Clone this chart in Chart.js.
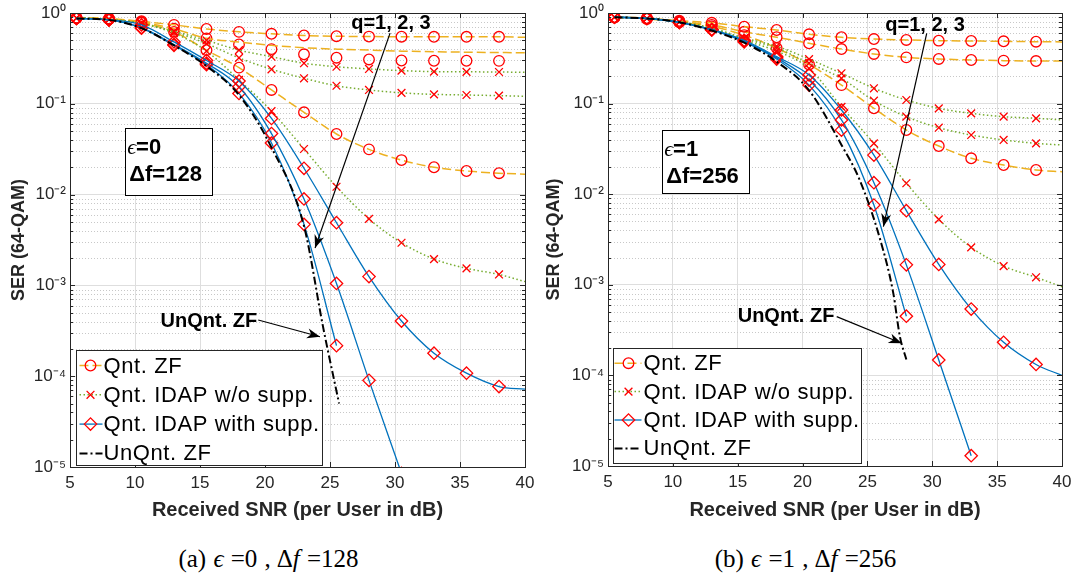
<!DOCTYPE html>
<html>
<head>
<meta charset="utf-8">
<script src="https://cdn.jsdelivr.net/npm/chart.js@4/dist/chart.umd.min.js"></script>
<style>
  body { margin: 0; background: #fff; width: 1074px; height: 583px; overflow: hidden; position: relative; }
  canvas { position: absolute; top: 0; }
  #ca { left: 0; }
  #cb { left: 537px; }
  .cap { position: absolute; top: 545px; width: 537px; text-align: center; font: 25px "Liberation Serif", "Times New Roman", serif; color: #000; word-spacing: 1px; }
</style>
</head>
<body>
<canvas id="ca" width="537" height="530"></canvas>
<canvas id="cb" width="537" height="530"></canvas>
<div class="cap" style="left:0">(a) <i>ϵ</i> =0 , Δ<i>f</i> =128</div>
<div class="cap" style="left:537px">(b) <i>ϵ</i> =1 , Δ<i>f</i> =256</div>
<script>
// x positions of the markers; the last entry (40) is only where the curves end
const snr = [5.5, 8, 10.5, 13, 15.5, 18, 20.5, 23, 25.5, 28, 30.5, 33, 35.5, 38, 40];
const xTicks = [5, 10, 15, 20, 25, 30, 35, 40];
const yTicks = [1e-5, 1e-4, 1e-3, 1e-2, 1e-1, 1];
const yTickLabels = ['10⁻⁵', '10⁻⁴', '10⁻³', '10⁻²', '10⁻¹', '10⁰'];
const legendLabels = ['Qnt. ZF', 'Qnt. IDAP w/o supp.', 'Qnt. IDAP with supp.', 'UnQnt. ZF'];

// (a) eps=0, df=128 — q = 1, 2, 3
const aZF1 = [0.89, 0.87, 0.81, 0.74, 0.667, 0.62, 0.59, 0.565, 0.555, 0.55, 0.548, 0.547, 0.547, 0.547, 0.54];
const aZF2 = [0.88, 0.86, 0.79, 0.67, 0.526, 0.45, 0.40, 0.351, 0.322, 0.308, 0.30, 0.298, 0.298, 0.297];
const aZF2line = [0.88, 0.86, 0.79, 0.67, 0.526, 0.48, 0.44, 0.415, 0.40, 0.39, 0.38, 0.375, 0.37, 0.367, 0.365];
const aZF3 = [0.88, 0.86, 0.78, 0.62, 0.39, 0.25, 0.142, 0.0806, 0.0465, 0.0315, 0.024, 0.020, 0.0182, 0.0172, 0.0168];
const aW1 = [0.88, 0.85, 0.77, 0.63, 0.50, 0.39, 0.33, 0.28, 0.256, 0.242, 0.232, 0.226, 0.225, 0.224, 0.222];
const aW2 = [0.88, 0.85, 0.77, 0.62, 0.46, 0.32, 0.24, 0.191, 0.158, 0.142, 0.132, 0.127, 0.125, 0.123, 0.121];
const aW3 = [0.88, 0.85, 0.76, 0.60, 0.38, 0.183, 0.083, 0.0318, 0.0122, 0.0054, 0.00295, 0.00195, 0.00154, 0.00132, 0.0011];
const aS1 = [0.87, 0.84, 0.74, 0.48, 0.30, 0.178, 0.069, 0.0195, 0.0049, 0.00125, 4.05e-4, 1.79e-4, 1.08e-4, 7.7e-5, 7.2e-5];
const aS2 = [0.87, 0.84, 0.69, 0.45, 0.28, 0.154, 0.047, 0.00895, 0.00105, 9.0e-5, 8.5e-6];
const aS3 = [0.87, 0.84, 0.68, 0.44, 0.27, 0.13, 0.037, 0.0047, 2.17e-4];
const aUnX = [5.5, 8, 10.5, 13, 15.5, 18, 20.5, 23, 24.5, 25.7];
const aUnY = [0.87, 0.84, 0.68, 0.44, 0.26, 0.125, 0.033, 0.0045, 3.3e-4, 5e-5];

// (b) eps=1, df=256
const bZF1 = [0.90, 0.88, 0.82, 0.78, 0.706, 0.649, 0.582, 0.54, 0.516, 0.504, 0.495, 0.491, 0.487, 0.482, 0.48];
const bZF2 = [0.90, 0.87, 0.80, 0.74, 0.62, 0.54, 0.463, 0.40, 0.353, 0.324, 0.311, 0.303, 0.298, 0.295, 0.295];
const bZF3 = [0.89, 0.86, 0.79, 0.71, 0.57, 0.41, 0.27, 0.16, 0.0887, 0.0511, 0.034, 0.0249, 0.021, 0.0185, 0.0177];
const bW1 = [0.90, 0.87, 0.80, 0.68, 0.53, 0.43, 0.31, 0.216, 0.1476, 0.1096, 0.0887, 0.078, 0.0717, 0.0688, 0.066];
const bW2 = [0.90, 0.87, 0.80, 0.68, 0.52, 0.41, 0.28, 0.19, 0.1076, 0.0717, 0.0542, 0.045, 0.0397, 0.0364, 0.0349];
const bW3 = [0.90, 0.87, 0.80, 0.67, 0.50, 0.38, 0.245, 0.092, 0.0364, 0.0132, 0.00528, 0.00259, 0.00161, 0.00121, 9.5e-4];
const bS1 = [0.90, 0.87, 0.79, 0.66, 0.50, 0.33, 0.207, 0.085, 0.027, 0.00658, 0.00168, 5.4e-4, 2.32e-4, 1.32e-4, 1.0e-4];
const bS2 = [0.90, 0.87, 0.79, 0.65, 0.49, 0.32, 0.182, 0.066, 0.0134, 0.00166, 1.48e-4, 1.3e-5];
const bS3 = [0.90, 0.87, 0.79, 0.65, 0.48, 0.31, 0.16, 0.051, 0.0076, 4.5e-4];
const bUnX = [5.5, 8, 10.5, 13, 15.5, 18, 20.5, 23, 24.4, 26, 27, 27.5, 28];
const bUnY = [0.90, 0.87, 0.79, 0.64, 0.47, 0.29, 0.14, 0.035, 0.0144, 0.0031, 8e-4, 2.7e-4, 1.5e-4];

const FONT = '"Liberation Sans", Arial, Helvetica, sans-serif';
const AXIS = '#262626', GRID = '#dedede', RED = '#ff0000';
const sZF = { color: '#EDB120', width: 1.5, dash: [9, 4], marker: 'circle', r: 5.3 };
const sW = { color: '#77AC30', width: 1.5, dash: [1.5, 2.5], marker: 'crossRot', r: 5.5 };
const sS = { color: '#0072BD', width: 1.3, dash: [], marker: 'rectRot', r: 6.2 };
const sUn = { color: '#000000', width: 2, dash: [8, 3, 2, 3], marker: null, r: 0 };
const legendStyles = [sZF, sW, sS, sUn];

const minorY = [];
for (let e = -5; e < 0; e++) for (let k = 2; k <= 9; k++) minorY.push(k * Math.pow(10, e));

function curve(ys, st, opts = {}) {
  const xs = opts.xs || snr;
  return {
    data: ys.map((y, i) => ({ x: xs[i], y })),
    borderColor: st.color,
    borderWidth: st.width,
    borderDash: st.dash,
    showLine: opts.line !== false,
    pointStyle: st.marker || false,
    pointRadius: c => (opts.noMarks || !c.raw || c.raw.x > 39 ? 0 : st.r),
    pointBorderColor: RED,
    pointBackgroundColor: 'rgba(0,0,0,0)',
    pointBorderWidth: 1.3,
    cubicInterpolationMode: 'monotone',
    fill: false,
    order: opts.order || 0
  };
}

function drawArrow(ctx, x1, y1, x2, y2) {
  ctx.beginPath(); ctx.moveTo(x1, y1); ctx.lineTo(x2, y2); ctx.stroke();
  const a = Math.atan2(y2 - y1, x2 - x1), L = 13, W = 5, c = Math.cos(a), s = Math.sin(a);
  ctx.beginPath();
  ctx.moveTo(x2, y2);
  ctx.lineTo(x2 - L * c + W * s, y2 - L * s - W * c);
  ctx.lineTo(x2 - 0.7 * L * c, y2 - 0.7 * L * s);
  ctx.lineTo(x2 - L * c - W * s, y2 - L * s + W * c);
  ctx.closePath(); ctx.fill();
}

function drawMarker(ctx, kind, x, y) {
  ctx.beginPath();
  if (kind === 'circle') ctx.arc(x, y, 5.3, 0, 2 * Math.PI);
  if (kind === 'crossRot') { const d = 3.9; ctx.moveTo(x - d, y - d); ctx.lineTo(x + d, y + d); ctx.moveTo(x + d, y - d); ctx.lineTo(x - d, y + d); }
  if (kind === 'rectRot') { const r = 6.2; ctx.moveTo(x - r, y); ctx.lineTo(x, y - r); ctx.lineTo(x + r, y); ctx.lineTo(x, y + r); ctx.closePath(); }
  ctx.stroke();
}

const decorate = {
  id: 'decorate',
  beforeDatasetsDraw(chart) {
    const { ctx, chartArea: a, scales: { y } } = chart;
    ctx.save();
    ctx.strokeStyle = '#c8c8c8'; ctx.lineWidth = 1; ctx.setLineDash([1, 2]);
    minorY.forEach(v => {
      const py = Math.round(y.getPixelForValue(v)) + 0.5;
      ctx.beginPath(); ctx.moveTo(a.left, py); ctx.lineTo(a.right, py); ctx.stroke();
    });
    ctx.restore();
  },
  afterDatasetsDraw(chart) {
    const { ctx, chartArea: a, scales: { x, y } } = chart;
    ctx.save();
    ctx.strokeStyle = AXIS; ctx.lineWidth = 1;
    ctx.beginPath();
    yTicks.forEach(v => {
      const py = Math.round(y.getPixelForValue(v)) + 0.5;
      ctx.moveTo(a.left, py); ctx.lineTo(a.left + 5, py);
      ctx.moveTo(a.right, py); ctx.lineTo(a.right - 5, py);
    });
    minorY.forEach(v => {
      const py = Math.round(y.getPixelForValue(v)) + 0.5;
      ctx.moveTo(a.left, py); ctx.lineTo(a.left + 3, py);
      ctx.moveTo(a.right, py); ctx.lineTo(a.right - 3, py);
    });
    xTicks.forEach(v => {
      const px = Math.round(x.getPixelForValue(v)) + 0.5;
      ctx.moveTo(px, a.bottom); ctx.lineTo(px, a.bottom - 5);
      ctx.moveTo(px, a.top); ctx.lineTo(px, a.top + 5);
    });
    ctx.stroke();
    ctx.strokeRect(Math.round(a.left) + 0.5, Math.round(a.top) + 0.5, Math.round(a.right - a.left), Math.round(a.bottom - a.top));
    ctx.restore();
  },
  afterDraw(chart, args, o) {
    const { ctx, chartArea: a, scales: { x, y } } = chart;
    const X = v => x.getPixelForValue(v), Y = v => y.getPixelForValue(v);
    ctx.save();
    // parameter box
    const b = o.box;
    const bx = Math.round(X(b.x1)) + 0.5, by = Math.round(Y(b.y1)) + 0.5;
    const bw = Math.round(X(b.x2) - X(b.x1)), bh = Math.round(Y(b.y2) - Y(b.y1));
    ctx.fillStyle = '#fff'; ctx.fillRect(bx, by, bw, bh);
    ctx.strokeStyle = '#000'; ctx.lineWidth = 1; ctx.strokeRect(bx, by, bw, bh);
    ctx.fillStyle = '#000'; ctx.textBaseline = 'middle'; ctx.textAlign = 'left';
    const tx = X(b.tx);
    ctx.font = 'italic 22px "Liberation Serif", serif';
    ctx.fillText('ϵ', tx, Y(b.ty1));
    const ew = ctx.measureText('ϵ').width;
    ctx.font = 'bold 22px ' + FONT;
    ctx.fillText('=' + b.eps, tx + ew, Y(b.ty1));
    ctx.fillText('Δf=' + b.df, tx + 2, Y(b.ty2));
    // q arrow + label
    ctx.font = 'bold 20px ' + FONT;
    ctx.textAlign = 'center';
    ctx.fillText('q=1, 2, 3', X(o.q.x), Y(o.q.y));
    ctx.strokeStyle = '#000'; ctx.lineWidth = 1.2;
    drawArrow(ctx, X(o.q.x1), Y(o.q.y1), X(o.q.x2), Y(o.q.y2));
    // UnQnt arrow + label
    ctx.textAlign = 'right';
    ctx.fillText('UnQnt. ZF', X(o.un.x), Y(o.un.y));
    drawArrow(ctx, X(o.un.x1), Y(o.un.y1), X(o.un.x2), Y(o.un.y2));
    // legend
    const L = o.legend;
    const lx = Math.round(a.left + L.dx) + 0.5, ly = Math.round(a.bottom - L.dy - L.h) + 0.5;
    ctx.fillStyle = '#fff'; ctx.fillRect(lx, ly, L.w, L.h);
    ctx.strokeStyle = AXIS; ctx.lineWidth = 1; ctx.strokeRect(lx, ly, L.w, L.h);
    ctx.font = '22px ' + FONT; ctx.textAlign = 'left'; ctx.textBaseline = 'middle';
    ctx.letterSpacing = '0.6px';
    legendLabels.forEach((t, i) => {
      const st = legendStyles[i], cy = ly + L.row0 + i * L.step;
      ctx.strokeStyle = st.color; ctx.lineWidth = st.width; ctx.setLineDash(st.dash);
      ctx.beginPath(); ctx.moveTo(lx + L.l0, cy); ctx.lineTo(lx + L.l1, cy); ctx.stroke();
      ctx.setLineDash([]);
      if (st.marker) { ctx.strokeStyle = RED; ctx.lineWidth = 1.3; drawMarker(ctx, st.marker, lx + L.mx, cy); }
      ctx.fillStyle = '#000'; ctx.fillText(t, lx + L.tx, cy + 1);
    });
    ctx.restore();
  }
};

function makeChart(id, datasets, deco, dims) {
  return new Chart(document.getElementById(id), {
    type: 'line',
    data: { datasets },
    options: {
      responsive: false,
      animation: false,
      events: [],
      layout: { padding: { top: 13, right: dims.right, left: 0, bottom: 0 } },
      plugins: { legend: { display: false }, tooltip: { enabled: false }, decorate: deco },
      scales: {
        x: {
          type: 'linear', min: 5, max: 40,
          afterBuildTicks: s => { s.ticks = xTicks.map(v => ({ value: v })); },
          ticks: { padding: 6, color: AXIS, maxRotation: 0, font: { family: FONT, size: 17 } },
          grid: { color: GRID, drawTicks: false },
          border: { display: false },
          title: { display: true, text: 'Received SNR (per User in dB)', color: AXIS,
                   font: { family: FONT, size: 20, weight: 'bold' }, padding: { top: 0, bottom: 8 } },
          afterFit: s => { s.height = dims.xh; s.paddingLeft = 0; s.paddingRight = 0; }
        },
        y: {
          type: 'logarithmic', min: 1e-5, max: 1,
          afterBuildTicks: s => { s.ticks = yTicks.concat(minorY).sort((p, q) => p - q).map(v => ({ value: v })); },
          ticks: { autoSkip: false, padding: 4, color: AXIS, font: { family: FONT, size: 17 },
                   callback: v => { const i = yTicks.indexOf(v); return i >= 0 ? yTickLabels[i] : ''; } },
          grid: { color: c => (c.tick && yTicks.includes(c.tick.value) ? GRID : 'rgba(0,0,0,0)'), drawTicks: false },
          border: { display: false },
          title: { display: true, text: 'SER (64-QAM)', color: AXIS,
                   font: { family: FONT, size: 18, weight: 'bold' }, padding: { top: dims.ytp, bottom: 0 } },
          afterFit: s => { s.width = dims.yw; s.paddingTop = 0; s.paddingBottom = 0; }
        }
      }
    },
    plugins: [decorate]
  });
}

const dsA = [
  curve(aZF1, sZF, { order: 4 }),
  curve(aZF2line, sZF, { order: 4, noMarks: true }),
  curve(aZF2, sZF, { order: 4, line: false }),
  curve(aZF3, sZF, { order: 4 }),
  curve(aW1, sW, { order: 3 }), curve(aW2, sW, { order: 3 }), curve(aW3, sW, { order: 3 }),
  curve(aS1, sS, { order: 2 }), curve(aS2, sS, { order: 2 }), curve(aS3, sS, { order: 2 }),
  curve(aUnY, sUn, { order: 1, xs: aUnX })
];
const dsB = [
  curve(bZF1, sZF, { order: 4 }), curve(bZF2, sZF, { order: 4 }), curve(bZF3, sZF, { order: 4 }),
  curve(bW1, sW, { order: 3 }), curve(bW2, sW, { order: 3 }), curve(bW3, sW, { order: 3 }),
  curve(bS1, sS, { order: 2 }), curve(bS2, sS, { order: 2 }), curve(bS3, sS, { order: 2 }),
  curve(bUnY, sUn, { order: 1, xs: bUnX })
];

makeChart('ca', dsA, {
  box: { x1: 9.23, x2: 15.92, y1: 0.054, y2: 0.0099, tx: 9.4, ty1: 0.0326, ty2: 0.01644, eps: '0', df: '128' },
  q: { x: 29.69, y: 0.757, x1: 29.62, y1: 0.60, x2: 23.85, y2: 2.58e-3 },
  un: { x: 19.4, y: 4.0e-4, x1: 19.48, y1: 4.16e-4, x2: 24.23, y2: 2.72e-4 },
  legend: { dx: 6, dy: 2, w: 246, h: 115, row0: 15, step: 29.3, l0: 3, l1: 26, mx: 14, tx: 27 }
}, { right: 12, yw: 70, xh: 63, ytp: 8 });

makeChart('cb', dsB, {
  box: { x1: 9.14, x2: 15.82, y1: 0.0511, y2: 0.01023, tx: 9.33, ty1: 0.0307, ty2: 0.0156, eps: '1', df: '256' },
  q: { x: 29.44, y: 0.737, x1: 29.57, y1: 0.597, x2: 26.23, y2: 4.38e-3 },
  un: { x: 22.45, y: 4.45e-4, x1: 22.63, y1: 4.45e-4, x2: 27.64, y2: 2.26e-4 },
  legend: { dx: 5, dy: 3, w: 248, h: 115, row0: 14.7, step: 28.4, l0: 1, l1: 28, mx: 15, tx: 30 }
}, { right: 12, yw: 71, xh: 64, ytp: 6 });
</script>
</body>
</html>
